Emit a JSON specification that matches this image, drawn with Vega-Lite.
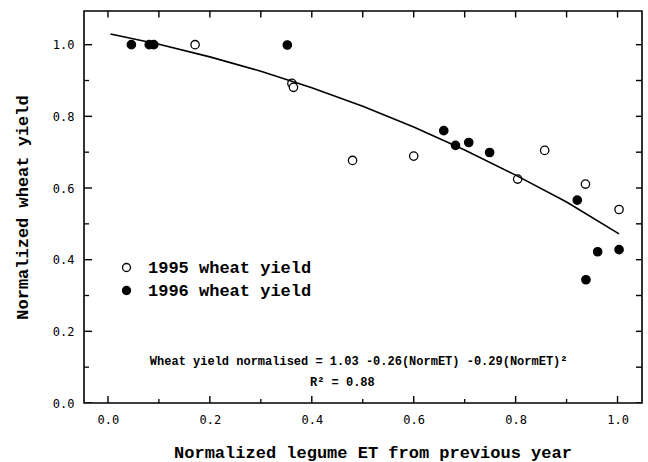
{
  "$schema": "https://vega.github.io/schema/vega-lite/v6.json",
  "width": 558,
  "height": 392,
  "autosize": {"type": "none"},
  "padding": {"left": 84, "top": 11, "right": 6, "bottom": 59},
  "background": "white",
  "config": {
    "view": {"stroke": "black", "strokeWidth": 1.6},
    "axis": {
      "grid": false,
      "domain": false,
      "ticks": false,
      "labelFont": "DejaVu Sans Mono",
      "labelFontSize": 12,
      "labelColor": "black",
      "titleFont": "Liberation Mono",
      "titleFontWeight": "bold",
      "titleFontSize": 17,
      "titleColor": "black"
    }
  },
  "datasets": {
    "points": [
      {"et": 0.171, "yield": 1.0, "year": "1995"},
      {"et": 0.361, "yield": 0.892, "year": "1995"},
      {"et": 0.364, "yield": 0.881, "year": "1995"},
      {"et": 0.48, "yield": 0.677, "year": "1995"},
      {"et": 0.6, "yield": 0.689, "year": "1995"},
      {"et": 0.804, "yield": 0.625, "year": "1995"},
      {"et": 0.857, "yield": 0.705, "year": "1995"},
      {"et": 0.937, "yield": 0.611, "year": "1995"},
      {"et": 1.003, "yield": 0.54, "year": "1995"},
      {"et": 0.046, "yield": 1.0, "year": "1996"},
      {"et": 0.081, "yield": 1.0, "year": "1996"},
      {"et": 0.09, "yield": 1.0, "year": "1996"},
      {"et": 0.352, "yield": 0.999, "year": "1996"},
      {"et": 0.659, "yield": 0.76, "year": "1996"},
      {"et": 0.682, "yield": 0.719, "year": "1996"},
      {"et": 0.708, "yield": 0.727, "year": "1996"},
      {"et": 0.749, "yield": 0.699, "year": "1996"},
      {"et": 0.921, "yield": 0.566, "year": "1996"},
      {"et": 0.938, "yield": 0.344, "year": "1996"},
      {"et": 0.961, "yield": 0.422, "year": "1996"},
      {"et": 1.003, "yield": 0.428, "year": "1996"}
    ],
    "fit": [
      {"et": 0.005, "yield": 1.03},
      {"et": 0.1, "yield": 1.001},
      {"et": 0.2, "yield": 0.966},
      {"et": 0.3, "yield": 0.926},
      {"et": 0.4, "yield": 0.88},
      {"et": 0.5, "yield": 0.828},
      {"et": 0.6, "yield": 0.77},
      {"et": 0.7, "yield": 0.706},
      {"et": 0.8, "yield": 0.636},
      {"et": 0.9, "yield": 0.561},
      {"et": 1.003, "yield": 0.472}
    ],
    "notes": [
      {"label": "Wheat yield normalised = 1.03 -0.26(NormET) -0.29(NormET)²", "et": 0.492, "yield": 0.116},
      {"label": "R² = 0.88", "et": 0.46, "yield": 0.059}
    ],
    "tickvals": [
      {"v": 0.0, "kind": "major"},
      {"v": 0.1, "kind": "minor"},
      {"v": 0.2, "kind": "major"},
      {"v": 0.3, "kind": "minor"},
      {"v": 0.4, "kind": "major"},
      {"v": 0.5, "kind": "minor"},
      {"v": 0.6, "kind": "major"},
      {"v": 0.7, "kind": "minor"},
      {"v": 0.8, "kind": "major"},
      {"v": 0.9, "kind": "minor"},
      {"v": 1.0, "kind": "major"}
    ]
  },
  "layer": [
    {
      "data": {"name": "points"},
      "mark": {"type": "point", "shape": "circle", "filled": true, "stroke": "black", "strokeWidth": 1.3, "size": 70, "opacity": 1},
      "encoding": {
        "x": {
          "field": "et", "type": "quantitative",
          "scale": {"domain": [-0.047, 1.048], "nice": false, "zero": false},
          "axis": {"orient": "bottom", "values": [0, 0.2, 0.4, 0.6, 0.8, 1.0], "format": ".1f", "labelPadding": 11,
                   "title": "Normalized legume ET from previous year", "titleX": 288.5, "titleY": 49, "titleBaseline": "middle"}
        },
        "y": {
          "field": "yield", "type": "quantitative",
          "scale": {"domain": [0, 1.094], "nice": false, "zero": false},
          "axis": {"orient": "left", "values": [0, 0.2, 0.4, 0.6, 0.8, 1.0], "format": ".1f", "labelPadding": 10,
                   "title": "Normalized wheat yield", "titleX": -62, "titleBaseline": "middle"}
        },
        "fill": {
          "field": "year", "type": "nominal",
          "scale": {"domain": ["1995", "1996"], "range": ["white", "black"]},
          "legend": {
            "orient": "none", "legendX": 34, "legendY": 248, "title": null, "padding": 0,
            "labelFont": "Liberation Mono", "labelFontWeight": "bold", "labelFontSize": 17, "labelColor": "black",
            "labelOffset": 13, "labelLimit": 0, "rowPadding": 5, "symbolType": "circle", "symbolSize": 64,
            "symbolStrokeColor": "black", "symbolStrokeWidth": 1.3,
            "labelExpr": "datum.label + ' wheat yield'"
          }
        }
      }
    },
    {
      "data": {"name": "fit"},
      "mark": {"type": "line", "color": "black", "strokeWidth": 1.6},
      "encoding": {
        "x": {"field": "et", "type": "quantitative",
              "axis": {"orient": "bottom", "values": [0, 0.2, 0.4, 0.6, 0.8, 1.0], "format": ".1f", "labelPadding": 11,
                       "title": "Normalized legume ET from previous year", "titleX": 288.5, "titleY": 49, "titleBaseline": "middle"}},
        "y": {"field": "yield", "type": "quantitative",
              "axis": {"orient": "left", "values": [0, 0.2, 0.4, 0.6, 0.8, 1.0], "format": ".1f", "labelPadding": 10,
                       "title": "Normalized wheat yield", "titleX": -62, "titleBaseline": "middle"}}
      }
    },
    {
      "data": {"name": "notes"},
      "mark": {"type": "text", "font": "Liberation Mono", "fontWeight": "bold", "fontSize": 12, "align": "center", "baseline": "middle", "color": "black"},
      "encoding": {
        "text": {"field": "label"},
        "x": {"field": "et", "type": "quantitative",
              "axis": {"orient": "bottom", "values": [0, 0.2, 0.4, 0.6, 0.8, 1.0], "format": ".1f", "labelPadding": 11,
                       "title": "Normalized legume ET from previous year", "titleX": 288.5, "titleY": 49, "titleBaseline": "middle"}},
        "y": {"field": "yield", "type": "quantitative",
              "axis": {"orient": "left", "values": [0, 0.2, 0.4, 0.6, 0.8, 1.0], "format": ".1f", "labelPadding": 10,
                       "title": "Normalized wheat yield", "titleX": -62, "titleBaseline": "middle"}}
      }
    },
    {
      "data": {"name": "tickvals"},
      "transform": [{"filter": "datum.kind == 'major'"}],
      "mark": {"type": "tick", "orient": "vertical", "color": "black", "opacity": 1, "thickness": 1.4, "size": 14, "clip": true},
      "encoding": {
        "x": {"field": "v", "type": "quantitative",
              "axis": {"orient": "bottom", "values": [0, 0.2, 0.4, 0.6, 0.8, 1.0], "format": ".1f", "labelPadding": 11,
                       "title": "Normalized legume ET from previous year", "titleX": 288.5, "titleY": 49, "titleBaseline": "middle"}},
        "y": {"datum": 0, "type": "quantitative",
              "axis": {"orient": "left", "values": [0, 0.2, 0.4, 0.6, 0.8, 1.0], "format": ".1f", "labelPadding": 10,
                       "title": "Normalized wheat yield", "titleX": -62, "titleBaseline": "middle"}}
      }
    },
    {
      "data": {"name": "tickvals"},
      "transform": [{"filter": "datum.kind == 'minor'"}],
      "mark": {"type": "tick", "orient": "vertical", "color": "black", "opacity": 1, "thickness": 1.3, "size": 8, "clip": true},
      "encoding": {
        "x": {"field": "v", "type": "quantitative",
              "axis": {"orient": "bottom", "values": [0, 0.2, 0.4, 0.6, 0.8, 1.0], "format": ".1f", "labelPadding": 11,
                       "title": "Normalized legume ET from previous year", "titleX": 288.5, "titleY": 49, "titleBaseline": "middle"}},
        "y": {"datum": 0, "type": "quantitative",
              "axis": {"orient": "left", "values": [0, 0.2, 0.4, 0.6, 0.8, 1.0], "format": ".1f", "labelPadding": 10,
                       "title": "Normalized wheat yield", "titleX": -62, "titleBaseline": "middle"}}
      }
    },
    {
      "data": {"name": "tickvals"},
      "mark": {"type": "tick", "orient": "vertical", "color": "black", "opacity": 1, "thickness": 1.4, "size": 13, "clip": true},
      "encoding": {
        "x": {"field": "v", "type": "quantitative",
              "axis": {"orient": "bottom", "values": [0, 0.2, 0.4, 0.6, 0.8, 1.0], "format": ".1f", "labelPadding": 11,
                       "title": "Normalized legume ET from previous year", "titleX": 288.5, "titleY": 49, "titleBaseline": "middle"}},
        "y": {"datum": 1.094, "type": "quantitative",
              "axis": {"orient": "left", "values": [0, 0.2, 0.4, 0.6, 0.8, 1.0], "format": ".1f", "labelPadding": 10,
                       "title": "Normalized wheat yield", "titleX": -62, "titleBaseline": "middle"}}
      }
    },
    {
      "data": {"name": "tickvals"},
      "transform": [{"filter": "datum.kind == 'major'"}],
      "mark": {"type": "tick", "orient": "horizontal", "color": "black", "opacity": 1, "thickness": 1.4, "size": 16, "clip": true},
      "encoding": {
        "y": {"field": "v", "type": "quantitative",
              "axis": {"orient": "left", "values": [0, 0.2, 0.4, 0.6, 0.8, 1.0], "format": ".1f", "labelPadding": 10,
                       "title": "Normalized wheat yield", "titleX": -62, "titleBaseline": "middle"}},
        "x": {"datum": -0.047, "type": "quantitative",
              "axis": {"orient": "bottom", "values": [0, 0.2, 0.4, 0.6, 0.8, 1.0], "format": ".1f", "labelPadding": 11,
                       "title": "Normalized legume ET from previous year", "titleX": 288.5, "titleY": 49, "titleBaseline": "middle"}}
      }
    },
    {
      "data": {"name": "tickvals"},
      "transform": [{"filter": "datum.kind == 'minor'"}],
      "mark": {"type": "tick", "orient": "horizontal", "color": "black", "opacity": 1, "thickness": 1.3, "size": 10, "clip": true},
      "encoding": {
        "y": {"field": "v", "type": "quantitative",
              "axis": {"orient": "left", "values": [0, 0.2, 0.4, 0.6, 0.8, 1.0], "format": ".1f", "labelPadding": 10,
                       "title": "Normalized wheat yield", "titleX": -62, "titleBaseline": "middle"}},
        "x": {"datum": -0.047, "type": "quantitative",
              "axis": {"orient": "bottom", "values": [0, 0.2, 0.4, 0.6, 0.8, 1.0], "format": ".1f", "labelPadding": 11,
                       "title": "Normalized legume ET from previous year", "titleX": 288.5, "titleY": 49, "titleBaseline": "middle"}}
      }
    },
    {
      "data": {"name": "tickvals"},
      "mark": {"type": "tick", "orient": "horizontal", "color": "black", "opacity": 1, "thickness": 1.4, "size": 12, "clip": true},
      "encoding": {
        "y": {"field": "v", "type": "quantitative",
              "axis": {"orient": "left", "values": [0, 0.2, 0.4, 0.6, 0.8, 1.0], "format": ".1f", "labelPadding": 10,
                       "title": "Normalized wheat yield", "titleX": -62, "titleBaseline": "middle"}},
        "x": {"datum": 1.048, "type": "quantitative",
              "axis": {"orient": "bottom", "values": [0, 0.2, 0.4, 0.6, 0.8, 1.0], "format": ".1f", "labelPadding": 11,
                       "title": "Normalized legume ET from previous year", "titleX": 288.5, "titleY": 49, "titleBaseline": "middle"}}
      }
    }
  ]
}
